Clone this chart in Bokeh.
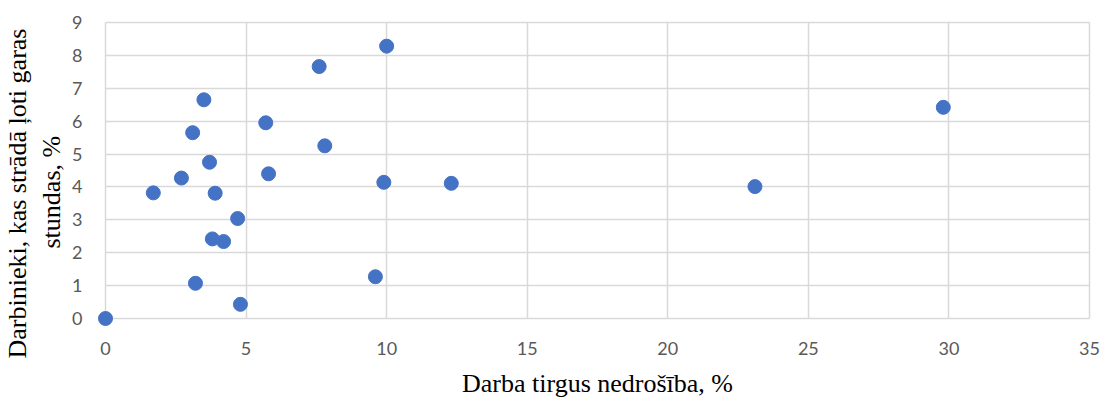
from bokeh.plotting import figure
from bokeh.models import Range1d, FixedTicker, Title
from bokeh.embed import file_html
from bokeh.resources import INLINE

# data
insecurity = [10.0, 7.6, 3.5, 5.7, 3.1, 7.8, 3.7, 2.7, 5.8, 9.9, 12.3, 1.7, 3.9,
              4.7, 3.8, 4.2, 3.2, 9.6, 4.8, 0.0, 23.1, 29.8]
long_hours = [8.28, 7.66, 6.65, 5.95, 5.65, 5.25, 4.75, 4.27, 4.40, 4.14, 4.11, 3.82, 3.81,
              3.04, 2.42, 2.34, 1.07, 1.27, 0.43, 0.0, 4.01, 6.42]
x_ticks = [0, 5, 10, 15, 20, 25, 30, 35]
y_ticks = [0, 1, 2, 3, 4, 5, 6, 7, 8, 9]
x_title = "Darba tirgus nedrošība, %"
y_title_lines = ["Darbinieki, kas strādā ļoti garas", "stundas, %"]

GRID = "#d9d9d9"
TICK = "#595959"

# layout (pixels)
px_x = 984 / 35.0
px_y = 296.3 / 9.0
pad = 9

p = figure(width=1105, height=401, output_backend="svg", toolbar_location=None,
           x_range=Range1d(-pad / px_x, 35 + pad / px_x),
           y_range=Range1d(-pad / px_y, 9 + pad / px_y),
           min_border_left=96, min_border_right=7, min_border_top=13, min_border_bottom=74)
p.outline_line_color = None
p.background_fill_color = "white"
p.border_fill_color = "white"

p.xaxis.ticker = FixedTicker(ticks=x_ticks)
p.yaxis.ticker = FixedTicker(ticks=y_ticks)
p.xgrid.ticker = FixedTicker(ticks=x_ticks)
p.ygrid.ticker = FixedTicker(ticks=y_ticks)
p.xgrid.cross_bounds = (0, 9)
p.ygrid.cross_bounds = (0, 35)
for g in (p.xgrid, p.ygrid):
    g.grid_line_color = GRID
    g.grid_line_width = 1.5

for ax in (p.xaxis, p.yaxis):
    ax.axis_line_color = None
    ax.major_tick_line_color = None
    ax.minor_tick_line_color = None
    ax.major_label_text_font = "Lato"
    ax.major_label_text_font_size = "18px"
    ax.major_label_text_color = TICK
    ax.axis_label_text_font = "Liberation Serif"
    ax.axis_label_text_font_size = "26px"
    ax.axis_label_text_font_style = "normal"
    ax.axis_label_text_color = "black"

p.xaxis.major_label_standoff = 8
p.yaxis.major_label_standoff = 8
p.xaxis.axis_label = x_title
p.xaxis.axis_label_standoff = 11

# two-line rotated y title: each line is a left-panel title (inner line added first)
for text, off, so in ((y_title_lines[1], 79, 7), (y_title_lines[0], -31, 0)):
    p.add_layout(Title(text=text, align="left", offset=off, standoff=so,
                       text_font="Liberation Serif", text_font_size="26px",
                       text_font_style="normal", text_color="black"), "left")

p.scatter(insecurity, long_hours, size=14, fill_color="#4472C4", line_color="#4472C4")

open("out.html", "w").write(file_html(p, INLINE))
